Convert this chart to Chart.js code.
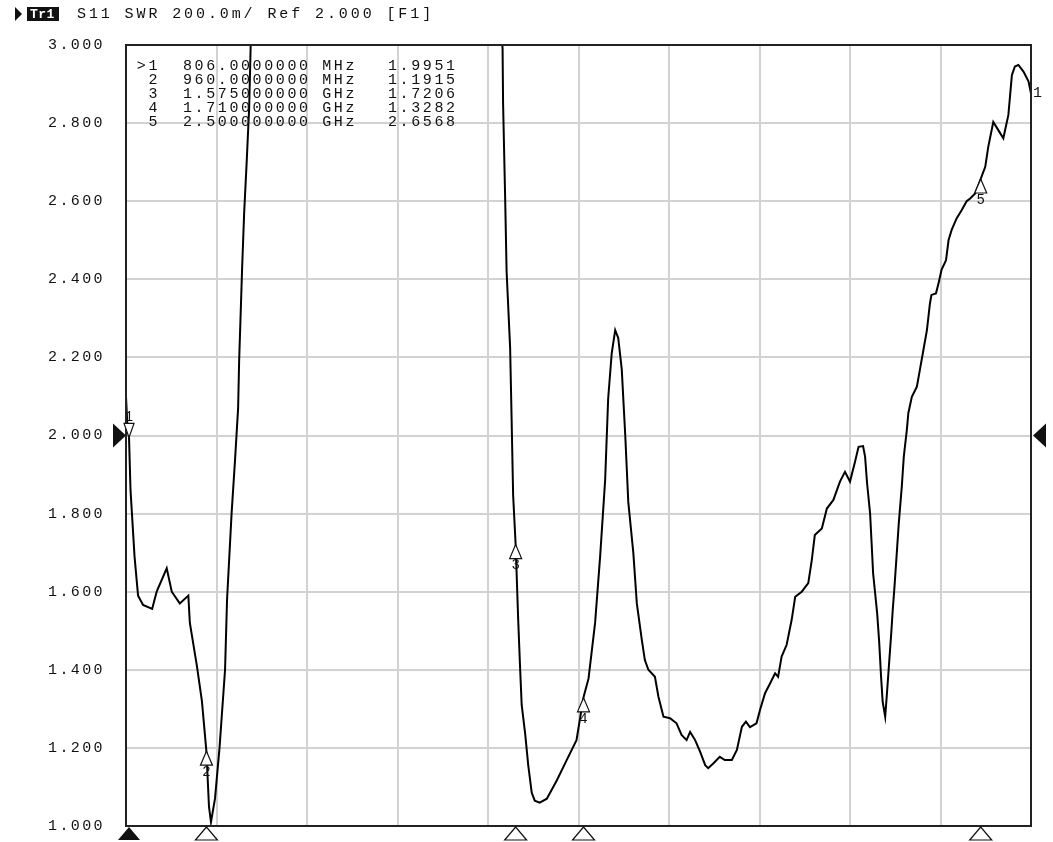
<!DOCTYPE html>
<html>
<head>
<meta charset="utf-8">
<script src="https://cdn.jsdelivr.net/npm/chart.js@4.4.1/dist/chart.umd.min.js"></script>
<style>
html, body { margin: 0; padding: 0; background: #fff; }
canvas { display: block; }
</style>
</head>
<body>
<canvas id="swrChart" width="1053" height="842"></canvas>
<script>
// trace S11 SWR, frequency in MHz
const freqMHz = [
    800, 803, 806, 809, 817, 824, 834, 852, 861, 881,
    891, 907, 924, 927, 941, 951, 960, 965, 969, 977,
    986, 997, 1001, 1010, 1017, 1023, 1025, 1028, 1031, 1035,
    1040, 1045, 1048, 1057, 1086, 1146, 1246, 1345, 1444, 1524,
    1544, 1549, 1550, 1554, 1557, 1564, 1567, 1570, 1575, 1580,
    1584, 1587, 1594, 1600, 1607, 1613, 1623, 1637, 1657, 1677,
    1696, 1710, 1720, 1733, 1743, 1753, 1759, 1766, 1773, 1779,
    1786, 1793, 1799, 1809, 1816, 1826, 1832, 1839, 1852, 1859,
    1869, 1882, 1895, 1905, 1915, 1922, 1932, 1942, 1952, 1958,
    1968, 1981, 1991, 2005, 2015, 2025, 2033, 2041, 2054, 2061,
    2071, 2081, 2091, 2097, 2104, 2114, 2124, 2131, 2144, 2157,
    2164, 2170, 2184, 2194, 2207, 2220, 2230, 2240, 2250, 2257,
    2266, 2270, 2274, 2280, 2283, 2286, 2290, 2294, 2298, 2302,
    2305, 2310, 2313, 2318, 2322, 2325, 2328, 2333, 2337, 2343,
    2347, 2353, 2356, 2363, 2373, 2379, 2386, 2393, 2399, 2402,
    2411, 2416, 2422, 2431, 2436, 2442, 2452, 2462, 2472, 2479,
    2489, 2500, 2509, 2515, 2525, 2535, 2545, 2555, 2562, 2568,
    2575, 2585, 2595, 2600
];
const swrValues = [
    2.10, 2.02, 1.995, 1.86, 1.69, 1.59, 1.566, 1.556, 1.60, 1.66,
    1.60, 1.57, 1.59, 1.52, 1.41, 1.32, 1.19, 1.05, 1.01, 1.07,
    1.20, 1.40, 1.58, 1.80, 1.94, 2.07, 2.19, 2.31, 2.43, 2.57,
    2.70, 2.84, 3.00, 3.25, 3.8, 4.5, 5.0, 5.0, 4.5, 3.6,
    3.1, 2.99, 2.85, 2.616, 2.42, 2.225, 2.04, 1.847, 1.72, 1.53,
    1.40, 1.31, 1.235, 1.156, 1.085, 1.065, 1.06, 1.07, 1.117, 1.17,
    1.22, 1.33, 1.378, 1.52, 1.69, 1.886, 2.094, 2.21, 2.27, 2.25,
    2.17, 2.00, 1.83, 1.70, 1.57, 1.476, 1.425, 1.40, 1.382, 1.331,
    1.28, 1.276, 1.263, 1.233, 1.22, 1.241, 1.22, 1.19, 1.156, 1.148,
    1.16, 1.177, 1.169, 1.169, 1.195, 1.254, 1.267, 1.253, 1.263, 1.297,
    1.34, 1.365, 1.391, 1.382, 1.434, 1.464, 1.528, 1.587, 1.60, 1.622,
    1.681, 1.745, 1.762, 1.813, 1.835, 1.882, 1.907, 1.882, 1.933, 1.971,
    1.973, 1.946, 1.877, 1.80, 1.724, 1.647, 1.596, 1.545, 1.472, 1.378,
    1.318, 1.28, 1.331, 1.421, 1.493, 1.553, 1.604, 1.698, 1.775, 1.869,
    1.946, 2.014, 2.057, 2.099, 2.125, 2.168, 2.219, 2.27, 2.338, 2.36,
    2.364, 2.389, 2.424, 2.449, 2.50, 2.526, 2.556, 2.577, 2.60, 2.607,
    2.62, 2.657, 2.688, 2.739, 2.803, 2.782, 2.761, 2.821, 2.923, 2.945,
    2.949, 2.932, 2.907, 2.876
];

// y tick labels (SWR), 200.0m / div
const yTickValues = [1.0, 1.2, 1.4, 1.6, 1.8, 2.0, 2.2, 2.4, 2.6, 2.8, 3.0];

// markers
const markerNames = ['1', '2', '3', '4', '5'];
const markerFreq = [806, 960, 1575, 1710, 2500];
const markerSwr = [1.9951, 1.1915, 1.7206, 1.3282, 2.6568];
const activeMarker = 0;

const headerText = 'S11 SWR 200.0m/ Ref 2.000 [F1]';
const refLevel = 2.0;

const FONT = '"Liberation Mono", "DejaVu Sans Mono", monospace';
const INK = '#111';

function freqText(f) {
    if (f < 1000) return f.toFixed(7) + ' MHz';
    return (f / 1000).toFixed(9) + ' GHz';
}

function tri(ctx, pts, fill) {
    ctx.beginPath();
    ctx.moveTo(pts[0][0], pts[0][1]);
    ctx.lineTo(pts[1][0], pts[1][1]);
    ctx.lineTo(pts[2][0], pts[2][1]);
    ctx.closePath();
    if (fill) {
        ctx.fillStyle = INK;
        ctx.fill();
    } else {
        ctx.fillStyle = '#fff';
        ctx.fill();
        ctx.stroke();
    }
}

const vnaOverlay = {
    id: 'vnaOverlay',
    beforeDraw(chart) {
        chart.ctx.letterSpacing = '2.4px';
    },
    afterDraw(chart) {
        const { ctx, chartArea: a, scales: { x, y } } = chart;
        ctx.save();

        // frame
        ctx.strokeStyle = '#222';
        ctx.lineWidth = 2;
        ctx.strokeRect(a.left, a.top, a.right - a.left, a.bottom - a.top);

        // header line
        ctx.fillStyle = INK;
        tri(ctx, [[15, 7], [15, 21], [22, 14]], true);
        ctx.fillRect(27, 7, 32, 14);
        ctx.font = 'bold 13px ' + FONT;
        ctx.letterSpacing = '0.5px';
        ctx.textBaseline = 'middle';
        ctx.textAlign = 'left';
        ctx.fillStyle = '#fff';
        ctx.fillText('Tr1', 30, 14.5);
        ctx.fillStyle = INK;
        ctx.font = '15px ' + FONT;
        ctx.letterSpacing = '2.9px';
        ctx.fillText(headerText, 77, 14.5);

        // marker table
        ctx.letterSpacing = '2.6px';
        for (let i = 0; i < markerNames.length; i++) {
            const ty = 66 + i * 14;
            const name = (i === activeMarker ? '>' : '') + markerNames[i];
            ctx.textAlign = 'right';
            ctx.fillText(name, 160, ty);
            ctx.textAlign = 'left';
            ctx.fillText(freqText(markerFreq[i]), 183, ty);
            ctx.fillText(markerSwr[i].toFixed(4), 388, ty);
        }

        // markers on the trace
        ctx.letterSpacing = '0px';
        ctx.font = '14px ' + FONT;
        ctx.strokeStyle = INK;
        ctx.lineWidth = 1.2;
        ctx.textAlign = 'center';
        for (let i = 0; i < markerNames.length; i++) {
            const px = x.getPixelForValue(markerFreq[i]);
            const py = y.getPixelForValue(markerSwr[i]);
            if (i === activeMarker) {
                tri(ctx, [[px, py], [px - 5, py - 14], [px + 5, py - 14]], false);
                ctx.fillStyle = INK;
                ctx.textBaseline = 'bottom';
                ctx.fillText(markerNames[i], px, py - 13);
            } else {
                tri(ctx, [[px, py], [px - 6, py + 14], [px + 6, py + 14]], false);
                ctx.fillStyle = INK;
                ctx.textBaseline = 'top';
                ctx.fillText(markerNames[i], px, py + 14);
            }
            // stimulus markers below the grid
            tri(ctx, [[px, a.bottom + 1], [px - 11, a.bottom + 14], [px + 11, a.bottom + 14]], i === activeMarker);
        }

        // trace end label
        const last = swrValues.length - 1;
        ctx.fillStyle = INK;
        ctx.textAlign = 'left';
        ctx.textBaseline = 'middle';
        ctx.font = '15px ' + FONT;
        ctx.fillText('1', a.right + 2, y.getPixelForValue(swrValues[last]));

        // reference level pointers
        const ry = y.getPixelForValue(refLevel);
        tri(ctx, [[a.left, ry], [a.left - 13, ry - 12], [a.left - 13, ry + 12]], true);
        tri(ctx, [[a.right + 2, ry], [a.right + 15, ry - 12], [a.right + 15, ry + 12]], true);

        ctx.restore();
    }
};

const swrCtx = document.getElementById('swrChart').getContext('2d');
const swrChart = new Chart(swrCtx, {
    type: 'line',
    data: {
        datasets: [{
            label: 'S11 SWR',
            data: freqMHz.map((f, i) => ({ x: f, y: swrValues[i] })),
            borderColor: '#000',
            borderWidth: 2,
            pointRadius: 0,
            tension: 0,
            fill: false
        }]
    },
    options: {
        responsive: false,
        animation: false,
        devicePixelRatio: 1,
        layout: { padding: { left: 0, right: 22, top: 45, bottom: 16 } },
        plugins: {
            legend: { display: false },
            tooltip: { enabled: false },
            title: { display: false }
        },
        scales: {
            x: {
                type: 'linear',
                min: 800,
                max: 2600,
                ticks: { display: false, stepSize: 180 },
                grid: { color: '#d2d2d2', lineWidth: 2, drawTicks: false },
                border: { display: false },
                afterFit: (scale) => { scale.height = 0; }
            },
            y: {
                min: 1,
                max: 3,
                afterBuildTicks: (scale) => {
                    scale.ticks = yTickValues.map(v => ({ value: v }));
                },
                ticks: {
                    padding: 21,
                    color: INK,
                    font: { family: FONT, size: 15 },
                    callback: (v) => Number(v).toFixed(3)
                },
                grid: { color: '#d2d2d2', lineWidth: 2, drawTicks: false },
                border: { display: false },
                afterFit: (scale) => {
                    scale.width = 126;
                    scale.paddingTop = 0;
                    scale.paddingBottom = 0;
                }
            }
        }
    },
    plugins: [vnaOverlay]
});
</script>
</body>
</html>
